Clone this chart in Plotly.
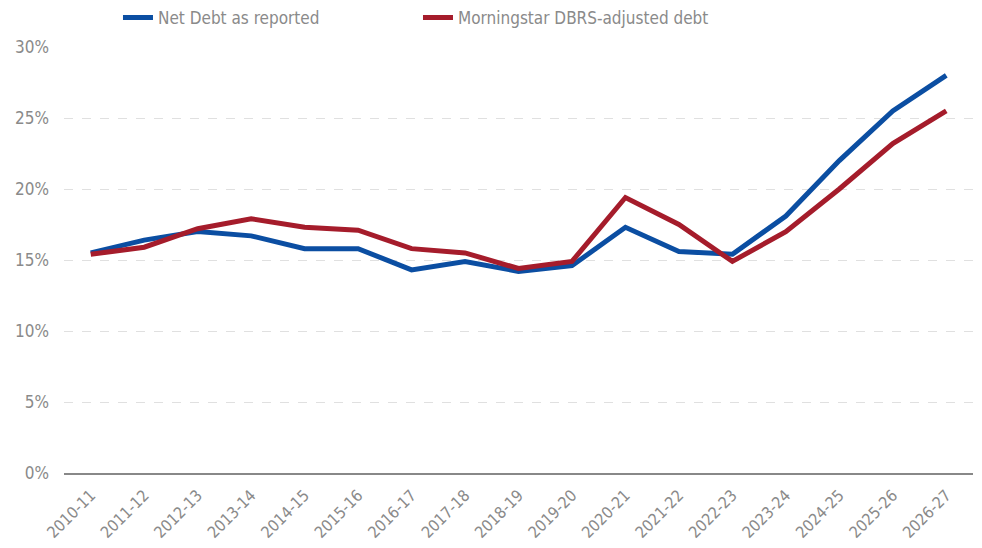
import plotly.graph_objects as go

years = ["2010-11", "2011-12", "2012-13", "2013-14", "2014-15", "2015-16", "2016-17",
         "2017-18", "2018-19", "2019-20", "2020-21", "2021-22", "2022-23", "2023-24",
         "2024-25", "2025-26", "2026-27"]
net_debt = [15.5, 16.4, 17.0, 16.7, 15.8, 15.8, 14.3, 14.9, 14.2, 14.6, 17.3, 15.6, 15.4,
            18.1, 22.0, 25.5, 28.0]
dbrs_debt = [15.4, 15.9, 17.2, 17.9, 17.3, 17.1, 15.8, 15.5, 14.4, 14.9, 19.4, 17.5, 14.9,
             17.0, 20.0, 23.2, 25.5]

FONT = "DejaVu Sans Condensed, sans-serif"
GRAY = "#8a8a8a"

fig = go.Figure()
fig.add_trace(go.Scatter(x=years, y=net_debt, mode="lines", name="Net Debt as reported",
                         line=dict(color="#0B4EA2", width=5), legend="legend"))
fig.add_trace(go.Scatter(x=years, y=dbrs_debt, mode="lines", name="Morningstar DBRS-adjusted debt",
                         line=dict(color="#A51C2B", width=5), legend="legend2"))

leg_common = dict(orientation="h", xref="container", yref="container", xanchor="left",
                  y=0.982, yanchor="middle", font=dict(size=17, color=GRAY),
                  bgcolor="rgba(0,0,0,0)")

fig.update_layout(
    width=982, height=548,
    margin=dict(l=56, r=17, t=39, b=83),
    paper_bgcolor="white", plot_bgcolor="white",
    font=dict(family=FONT, color=GRAY, size=15),
    showlegend=True,
    legend=dict(x=0.112, **leg_common),
    legend2=dict(x=0.4175, **leg_common),
    xaxis=dict(type="category", tickangle=-45, showgrid=False, showline=True,
               linecolor="#888888", linewidth=1.5, ticks="", tickfont=dict(size=16, color=GRAY),
               ticklabelstandoff=5,
               range=[-0.5, 16.5], automargin=False),
    yaxis=dict(range=[0, 30], dtick=5, ticksuffix="%", showgrid=True, gridcolor="#e0e0e0",
               griddash="dash", gridwidth=1, zeroline=False, showline=False,
               ticklabelstandoff=14,
               tickfont=dict(size=17, color=GRAY), automargin=False),
)

fig.write_html("out.html")
